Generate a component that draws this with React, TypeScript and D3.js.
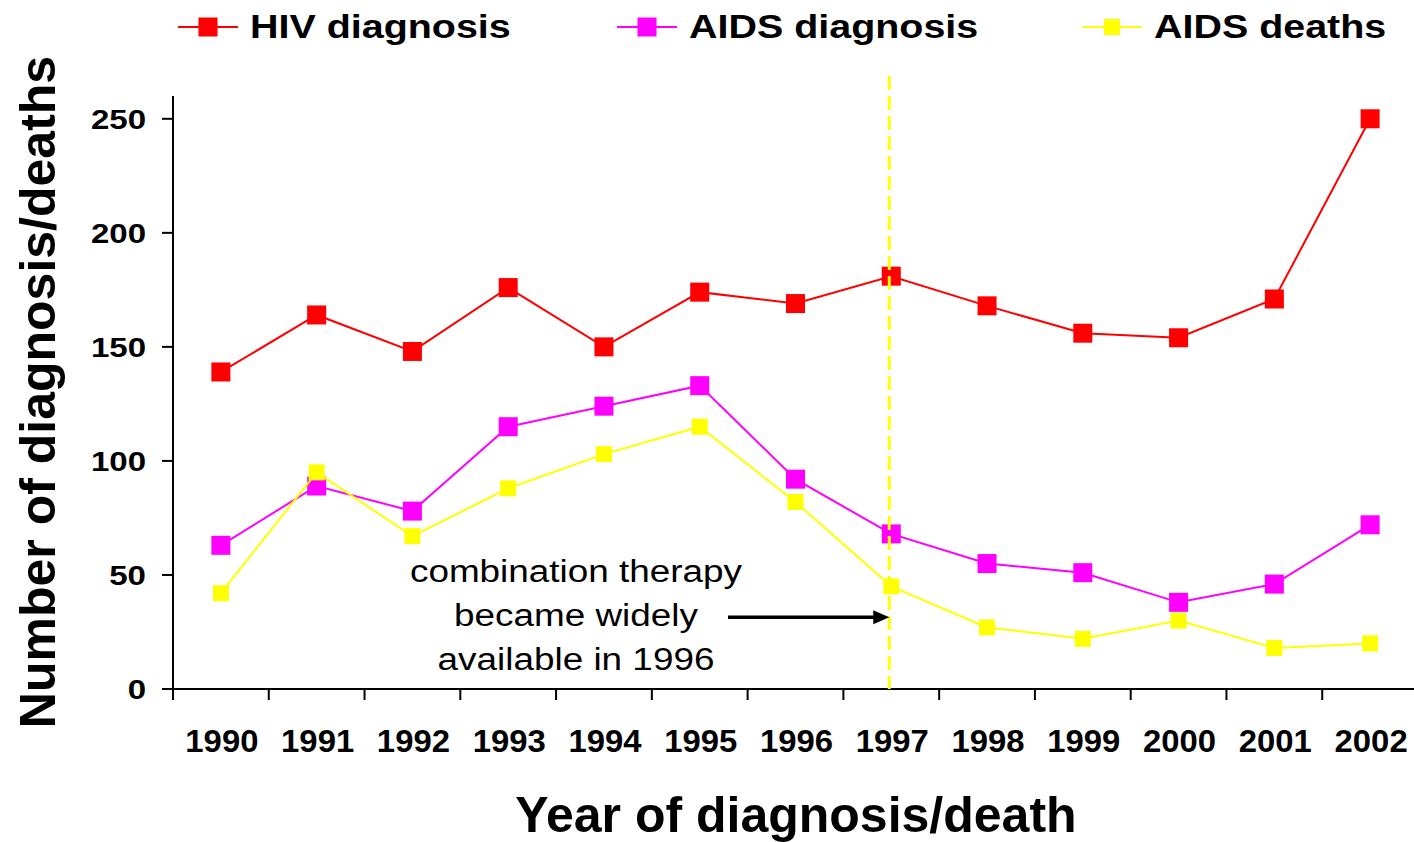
import { useEffect, useRef } from "react";
import * as d3 from "d3";

const years = ["1990", "1991", "1992", "1993", "1994", "1995", "1996", "1997", "1998", "1999", "2000", "2001", "2002"];
const hivDiagnosis = [139, 164, 148, 176, 150, 174, 169, 181, 168, 156, 154, 171, 250];
const aidsDiagnosis = [63, 89, 78, 115, 124, 133, 92, 68, 55, 51, 38, 46, 72];
const aidsDeaths = [42, 95, 67, 88, 103, 115, 82, 45, 27, 22, 30, 18, 20];
const yTicks = [0, 50, 100, 150, 200, 250];
const noteLines = ["combination therapy", "became widely", "available in 1996"];

const series = [
  { name: "HIV diagnosis", values: hivDiagnosis, color: "#ff0000", size: 19 },
  { name: "AIDS diagnosis", values: aidsDiagnosis, color: "#ff00ff", size: 19 },
  { name: "AIDS deaths", values: aidsDeaths, color: "#ffff00", size: 16 },
];

const App = () => {
  const ref = useRef<SVGSVGElement | null>(null);

  useEffect(() => {
    const svg = d3.select(ref.current);
    svg.selectAll("*").remove();

    const width = 1414;
    const left = 173;
    const bottom = 689;

    // last band runs a little past the right edge of the picture
    const x = d3.scaleBand().domain(years).range([left, 1418]).padding(0);
    const y = d3.scaleLinear().domain([0, 260]).range([bottom, 96]);
    const cx = (i: number) => (x(years[i]) as number) + x.bandwidth() / 2;

    // axes
    svg.append("line")
      .attr("x1", left).attr("x2", left)
      .attr("y1", y(260)).attr("y2", bottom + 1)
      .attr("stroke", "#000").attr("stroke-width", 2);
    svg.append("line")
      .attr("x1", left - 11).attr("x2", width)
      .attr("y1", bottom).attr("y2", bottom)
      .attr("stroke", "#000").attr("stroke-width", 2);

    svg.selectAll(".ytick")
      .data(yTicks)
      .enter()
      .append("line")
      .attr("x1", left - 11).attr("x2", left)
      .attr("y1", (d) => y(d)).attr("y2", (d) => y(d))
      .attr("stroke", "#000").attr("stroke-width", 2);

    svg.selectAll(".ylabel")
      .data(yTicks)
      .enter()
      .append("text")
      .attr("transform", (d) => `translate(146,${y(d) + 10}) scale(1.18,1)`)
      .attr("text-anchor", "end")
      .style("font-family", "Liberation Sans, Arial, sans-serif")
      .style("font-weight", "bold")
      .style("font-size", "28px")
      .text((d) => d);

    const bounds = years.map((yr) => x(yr) as number);
    svg.selectAll(".xtick")
      .data(bounds)
      .enter()
      .append("line")
      .attr("x1", (d) => d).attr("x2", (d) => d)
      .attr("y1", bottom).attr("y2", bottom + 11)
      .attr("stroke", "#000").attr("stroke-width", 2);

    svg.selectAll(".xlabel")
      .data(years)
      .enter()
      .append("text")
      .attr("transform", (d, i) => `translate(${cx(i) + 1},752) scale(1.06,1)`)
      .attr("text-anchor", "middle")
      .style("font-family", "Liberation Sans, Arial, sans-serif")
      .style("font-weight", "bold")
      .style("font-size", "31px")
      .text((d) => d);

    // axis titles
    svg.append("text")
      .attr("x", 796).attr("y", 832)
      .attr("text-anchor", "middle")
      .style("font-family", "Liberation Sans, Arial, sans-serif")
      .style("font-weight", "bold")
      .style("font-size", "50px")
      .text("Year of diagnosis/death");
    svg.append("text")
      .attr("transform", "translate(55,392) rotate(-90)")
      .attr("text-anchor", "middle")
      .style("font-family", "Liberation Sans, Arial, sans-serif")
      .style("font-weight", "bold")
      .style("font-size", "50px")
      .text("Number of diagnosis/deaths");

    // series
    const line = d3.line<number>().x((d, i) => cx(i)).y((d) => y(d));
    series.forEach((s) => {
      svg.append("path")
        .datum(s.values)
        .attr("d", line)
        .attr("fill", "none")
        .attr("stroke", s.color)
        .attr("stroke-width", 2);
      svg.selectAll(null)
        .data(s.values)
        .enter()
        .append("rect")
        .attr("x", (d, i) => cx(i) - s.size / 2)
        .attr("y", (d) => y(d) - s.size / 2)
        .attr("width", s.size)
        .attr("height", s.size)
        .attr("fill", s.color);
    });

    // 1997 marker line
    const x97 = cx(years.indexOf("1997")) - 2;
    svg.append("line")
      .attr("x1", x97).attr("x2", x97)
      .attr("y1", 76).attr("y2", bottom)
      .attr("stroke", "#ffff00")
      .attr("stroke-width", 3)
      .attr("stroke-dasharray", "14 6");

    // arrow + note
    const arrowY = y(31.5);
    svg.append("line")
      .attr("x1", 728).attr("x2", x97 - 14)
      .attr("y1", arrowY).attr("y2", arrowY)
      .attr("stroke", "#000").attr("stroke-width", 3.5);
    svg.append("path")
      .attr("d", `M${x97},${arrowY} L${x97 - 16},${arrowY - 7} L${x97 - 16},${arrowY + 7} Z`)
      .attr("fill", "#000");

    svg.selectAll(".note")
      .data(noteLines)
      .enter()
      .append("text")
      .attr("transform", (d, i) => `translate(576,${582 + i * 44}) scale(1.19,1)`)
      .attr("text-anchor", "middle")
      .style("font-family", "Liberation Sans, Arial, sans-serif")
      .style("font-size", "31px")
      .text((d) => d);

    // legend
    const legendX = [208, 647, 1112];
    series.forEach((s, i) => {
      const g = svg.append("g").attr("transform", `translate(${legendX[i]},27)`);
      g.append("line")
        .attr("x1", -30).attr("x2", 30)
        .attr("stroke", s.color).attr("stroke-width", 2);
      g.append("rect")
        .attr("x", -s.size / 2).attr("y", -s.size / 2)
        .attr("width", s.size).attr("height", s.size)
        .attr("fill", s.color);
      g.append("text")
        .attr("transform", "translate(42,11) scale(1.16,1)")
        .style("font-family", "Liberation Sans, Arial, sans-serif")
        .style("font-weight", "bold")
        .style("font-size", "34px")
        .text(s.name);
    });
  }, []);

  return (
    <div style={{ position: "absolute", left: 0, top: 0 }}>
      <svg ref={ref} width={1414} height={842} style={{ display: "block", background: "#fff" }} />
    </div>
  );
};

export default App;
